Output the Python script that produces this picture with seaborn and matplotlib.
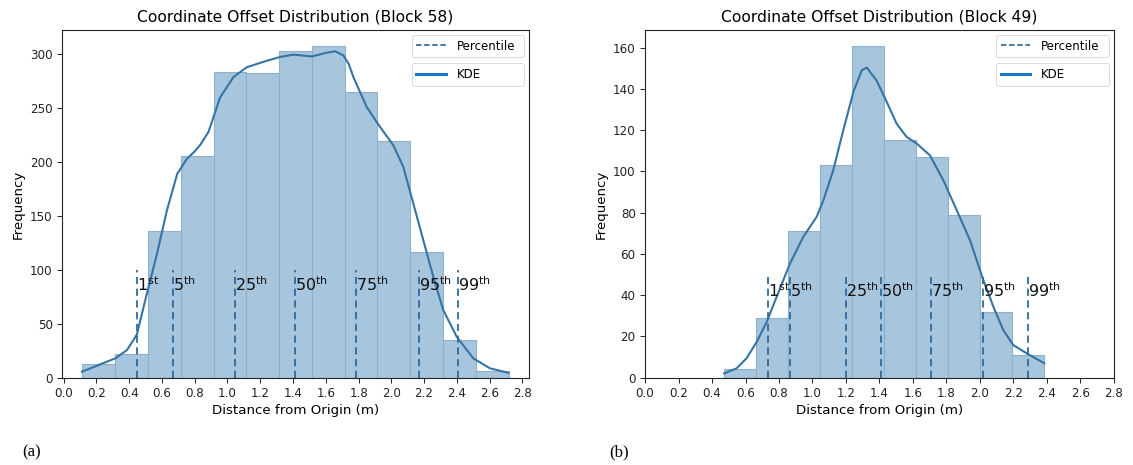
import numpy as np
import pandas as pd
import matplotlib
matplotlib.use("Agg")
import matplotlib.pyplot as plt
from matplotlib.lines import Line2D
import seaborn as sns

# ---------------- data ----------------
# Block 58
a_edges = [0.115, 0.315, 0.515, 0.715, 0.915, 1.115, 1.315, 1.515, 1.715, 1.915, 2.115, 2.315, 2.515, 2.715]
a_counts = [13, 22, 136, 206, 284, 283, 303, 308, 265, 220, 117, 35, 6]
a_kde_x = [0.112, 0.316, 0.387, 0.447, 0.508, 0.570, 0.630, 0.693, 0.752, 0.800, 0.834, 0.884, 0.955, 1.037,
           1.118, 1.240, 1.321, 1.402, 1.515, 1.606, 1.657, 1.707, 1.740, 1.768, 1.850, 1.931, 2.012, 2.073,
           2.134, 2.195, 2.256, 2.317, 2.399, 2.500, 2.602, 2.713]
a_kde_y = [5.6, 18, 25.7, 40, 78, 115, 155, 189, 203, 210, 216, 228, 260, 279,
           288, 294, 297.5, 299.7, 298, 301.5, 302.8, 299, 291, 279, 251, 232.6, 215.6, 195.6,
           161.6, 127.6, 93.6, 62.7, 38, 18, 8.7, 4.6]
a_pct = [0.445, 0.667, 1.047, 1.411, 1.782, 2.168, 2.406]

# Block 49
b_edges = [0.469, 0.6605, 0.852, 1.0435, 1.235, 1.4265, 1.618, 1.8095, 2.001, 2.1925, 2.384]
b_counts = [4, 29, 71, 103, 161, 115, 107, 79, 32, 11]
b_kde_x = [0.473, 0.546, 0.606, 0.667, 0.727, 0.786, 0.866, 0.945, 1.025, 1.065, 1.124, 1.184, 1.244,
           1.294, 1.324, 1.383, 1.443, 1.503, 1.562, 1.622, 1.701, 1.781, 1.861, 1.940, 2.020, 2.080,
           2.139, 2.199, 2.279, 2.384]
b_kde_y = [2.1, 4.5, 9.4, 17.4, 27.1, 39.2, 55.4, 68.3, 78, 86, 100.6, 120, 138.5,
           149, 150.3, 144, 133.7, 123, 116.7, 113.5, 107.8, 95.7, 81.2, 66.7, 47.3, 34.4,
           23.1, 15.8, 11.8, 7]
b_pct = [0.733, 0.868, 1.200, 1.411, 1.709, 2.016, 2.287]

pct_labels = [r"$\mathregular{1^{st}}$", r"$\mathregular{5^{th}}$", r"$\mathregular{25^{th}}$",
              r"$\mathregular{50^{th}}$", r"$\mathregular{75^{th}}$", r"$\mathregular{95^{th}}$",
              r"$\mathregular{99^{th}}$"]
titles = ["Coordinate Offset Distribution (Block 58)", "Coordinate Offset Distribution (Block 49)"]
xticks = [round(0.2 * i, 1) for i in range(15)]
# ----------------------------------------------------------------

plt.rcParams["font.family"] = ["DejaVu Sans"]
plt.rcParams["axes.linewidth"] = 0.8

fig = plt.figure(figsize=(11.33, 4.65), dpi=100)
ax_a = fig.add_axes([0.0547, 0.1877, 0.4122, 0.7477])
ax_b = fig.add_axes([0.5693, 0.1877, 0.4139, 0.7477])

BAR = "#a7c6de"
EDGE = "#8fb0c9"
KDE_C = "#3574a3"
PCT_C = "#2f6b9b"

def panel(ax, edges, counts, kx, ky, pct, pct_top, yticks, ylim_top, xlim, title):
    centers = [(edges[i] + edges[i + 1]) / 2 for i in range(len(counts))]
    df = pd.DataFrame({"x": centers, "w": counts})
    sns.histplot(data=df, x="x", weights="w", bins=edges, ax=ax, color=BAR, alpha=1.0,
                 edgecolor=EDGE, linewidth=0.8)
    sns.lineplot(x=kx, y=ky, ax=ax, color=KDE_C, linewidth=1.5)
    ax.vlines(pct, 0, pct_top, colors=PCT_C, linestyles=(0, (4, 2.5)), linewidth=1.3)
    for p, lab in zip(pct, pct_labels):
        ax.text(p, pct_top * 0.8, lab, fontsize=11.5, ha="left", va="baseline", color="#111111")
    ax.set_xlim(*xlim)
    ax.set_ylim(0, ylim_top)
    ax.set_xticks(xticks)
    ax.set_xticklabels([f"{t:.1f}" for t in xticks])
    ax.set_yticks(yticks)
    ax.tick_params(labelsize=8.6, length=3.5, width=0.7, pad=3.2, colors="#222222")
    ax.set_xlabel("Distance from Origin (m)", fontsize=9.6, labelpad=3)
    ax.set_ylabel("Frequency", fontsize=9.6, labelpad=4)
    ax.set_title(title, fontsize=11.2, pad=6)
    h1 = [Line2D([0], [0], color="#3d6d96", linestyle=(0, (3, 1.5)), linewidth=1.3)]
    leg1 = ax.legend(h1, ["Percentile"], loc="upper left", fontsize=8.5, frameon=True,
                     borderpad=0.4, handlelength=2.5, handletextpad=0.9,
                     bbox_to_anchor=(0.749, 0.917, 0.24, 0.069), mode="expand", borderaxespad=0)
    leg1.get_frame().set_linewidth(0.6)
    ax.add_artist(leg1)
    h2 = [Line2D([0], [0], color="#1a78c8", linestyle="-", linewidth=2.2)]
    leg2 = ax.legend(h2, ["KDE"], loc="upper left", fontsize=8.5, frameon=True,
                     borderpad=0.4, handlelength=2.5, handletextpad=0.9,
                     bbox_to_anchor=(0.749, 0.83, 0.24, 0.075), mode="expand", borderaxespad=0)
    leg2.get_frame().set_linewidth(0.6)
    for sp in ax.spines.values():
        sp.set_color("#222222")

panel(ax_a, a_edges, a_counts, a_kde_x, a_kde_y, a_pct, 100, list(range(0, 301, 50)), 322.5,
      (-0.01, 2.84), titles[0])
panel(ax_b, b_edges, b_counts, b_kde_x, b_kde_y, b_pct, 49, list(range(0, 161, 20)), 168.5,
      (0, 2.8), titles[1])

fig.text(22 / 1133, 1 - 452 / 465, "(a)", fontsize=12, family="Liberation Serif", va="center")
fig.text(609 / 1133, 1 - 452 / 465, "(b)", fontsize=12, family="Liberation Serif", va="center")

fig.savefig("out.png", dpi=100, facecolor="white")
